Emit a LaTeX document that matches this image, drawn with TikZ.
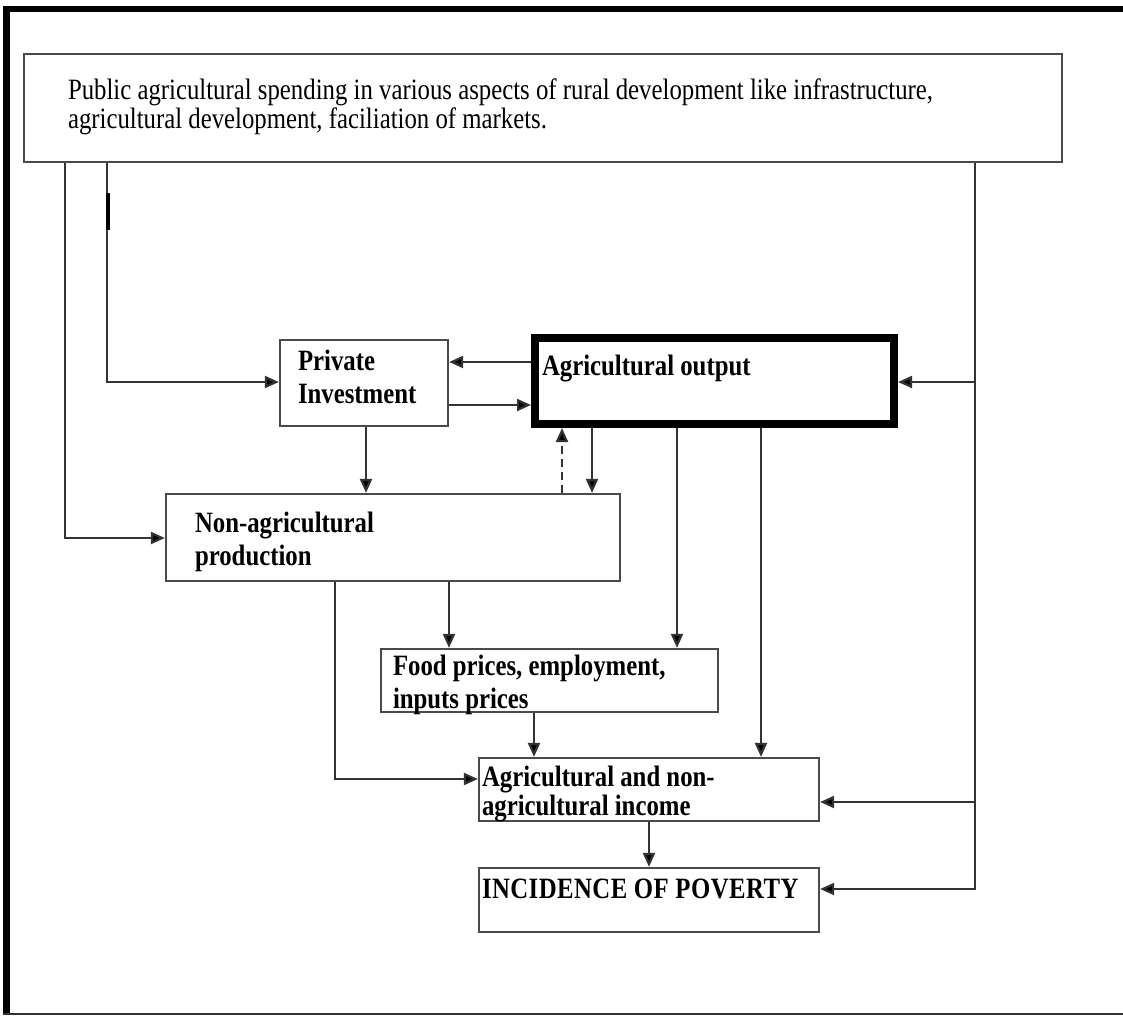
\documentclass[tikz,border=0pt]{standalone}
\usepackage{fontspec}
\setmainfont{Liberation Serif}[FakeStretch=0.84]
\usetikzlibrary{arrows.meta}
\definecolor{boxgray}{HTML}{4A4A4A}
\definecolor{linegray}{HTML}{333333}
\tikzset{
  box/.style={draw=boxgray, line width=2.2pt, rectangle, inner sep=0pt},
  conn/.style={draw=linegray, line width=2.2pt},
  arr/.style={conn, -{Triangle[length=14pt,width=12pt,fill=black]}},
  lbl/.style={anchor=base west, inner sep=0pt, outer sep=0pt, align=left, text=black},
  regtxt/.style={lbl, font=\fontsize{29.5}{29}\selectfont},
  boldtxt/.style={lbl, font=\fontsize{29.5}{33}\selectfont\bfseries},
}
\begin{document}
\begin{tikzpicture}[x=1pt,y=-1pt]
\useasboundingbox (0,0) rectangle (1123,1015);
% frame
\fill[black] (3,6) rectangle (1123,12);
\fill[black] (3,6) rectangle (10,1015);
\draw[line width=2pt, black!80] (3,1014) -- (1123,1014);

% boxes
\node[box, minimum width=1038pt, minimum height=108pt] (top) at (543,108) {};
\node[box, minimum width=168pt, minimum height=86pt] (pi) at (364,383) {};
\node[box, draw=black, line width=8pt, minimum width=359pt, minimum height=86pt] (ao) at (714.5,381) {};
\node[box, minimum width=454pt, minimum height=87pt] (na) at (393,537.5) {};
\node[box, minimum width=337pt, minimum height=63pt] (food) at (549.5,680.5) {};
\node[box, minimum width=340pt, minimum height=63pt] (ai) at (649,789.5) {};
\node[box, minimum width=340pt, minimum height=64pt] (pov) at (649,900) {};

% texts (base anchor = baseline of the last line)
\node[regtxt] (toptxt) at (68,128) {Public agricultural spending in various aspects of rural development like infrastructure,\\agricultural development, faciliation of markets.};
\node[boldtxt] (pitxt) at (298,403) {Private\\Investment};
\node[boldtxt] (aotxt) at (542,375) {Agricultural output};
\node[boldtxt] (natxt) at (195,565) {Non-agricultural\\production};
\node[boldtxt] (foodtxt) at (393,708) {Food prices, employment,\\inputs prices};
\node[boldtxt, font=\fontsize{29.5}{29}\selectfont\bfseries] (aitxt) at (482,815) {Agricultural and non-\\agricultural income};
\node[boldtxt, font=\fontsize{29.5}{33}\selectfont\bfseries\addfontfeature{LetterSpace=1.5}] (povtxt) at (482,898) {INCIDENCE OF POVERTY};

% connectors from the top box
\draw[arr] (top.south -| 65,0) |- (na.west |- 0,538);
\draw[arr] (top.south -| 107,0) |- (pi.west |- 0,382);
\draw[line width=4pt, black] (108,193) -- (108,230);
\coordinate (rb) at (975,889);
\draw[arr] (top.south -| rb) |- (pov.east |- rb);
\draw[arr] (rb |- 0,382) -- (ao.east |- 0,382);
\draw[arr] (rb |- 0,802) -- (ai.east |- 0,802);

% between boxes
\draw[arr] (ao.west |- 0,362) -- (pi.east |- 0,362);
\draw[arr] (pi.east |- 0,405) -- (ao.west |- 0,405);
\draw[arr] (pi.south -| 366,0) -- (na.north -| 366,0);
\draw[arr, dash pattern=on 8pt off 5pt] (na.north -| 562,0) -- (ao.south -| 562,0);
\draw[arr] (ao.south -| 592,0) -- (na.north -| 592,0);
\draw[arr] (ao.south -| 677,0) -- (food.north -| 677,0);
\draw[arr] (ao.south -| 761,0) -- (ai.north -| 761,0);
\draw[arr] (na.south -| 449,0) -- (food.north -| 449,0);
\draw[arr] (na.south -| 335,0) |- (ai.west |- 0,779);
\draw[arr] (food.south -| 534,0) -- (ai.north -| 534,0);
\draw[arr] (ai.south -| 649,0) -- (pov.north -| 649,0);
\end{tikzpicture}
\end{document}
